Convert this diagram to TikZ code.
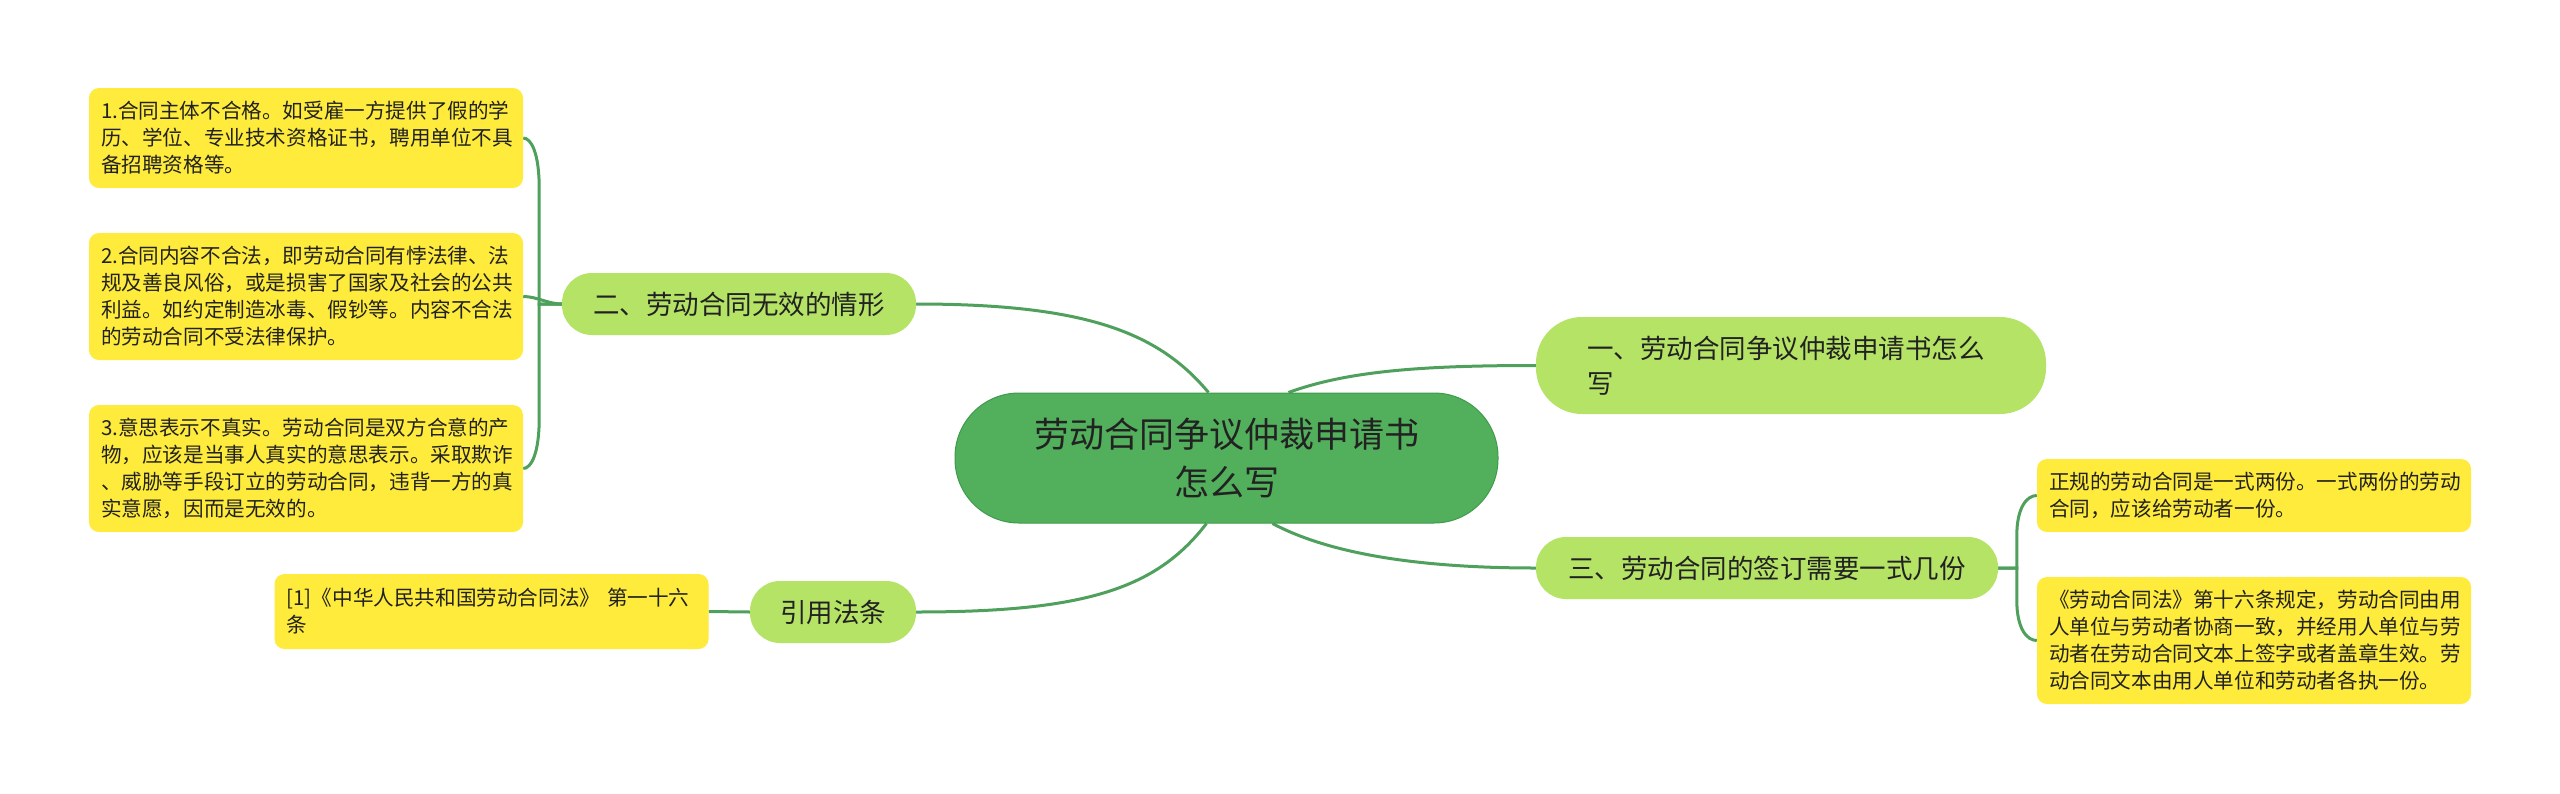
\documentclass[tikz,border=0pt]{standalone}
\usepackage{fontspec}
\setmainfont{Noto Sans CJK SC}
\usetikzlibrary{backgrounds}
\definecolor{cfill}{HTML}{52B05C}
\definecolor{cdraw}{HTML}{3F9A4B}
\definecolor{bfill}{HTML}{B5E366}
\definecolor{lfill}{HTML}{FEEB3B}
\definecolor{lncol}{HTML}{4EA05C}
\definecolor{txt}{HTML}{222222}
\begin{document}
\begin{tikzpicture}[x=1pt,y=-1pt,
  conn/.style={draw=lncol,line width=3pt},
  leafbox/.style={fill=lfill,rounded corners=10pt,text width=410pt,align=left,
    inner xsep=12pt,inner ysep=0pt,minimum height=#1,
    font=\fontsize{20.6}{27}\selectfont,text=txt},
  branchbox/.style={fill=bfill,rounded corners=30pt,minimum height=62pt,
    inner xsep=0pt,inner ysep=0pt,minimum width=#1,
    font=\fontsize{26.5}{35}\selectfont,text=txt},
  centerbox/.style={fill=cfill,draw=cdraw,line width=1pt,rounded corners=64pt,
    minimum width=543pt,minimum height=130pt,inner sep=0pt,align=center,
    font=\fontsize{35}{48}\selectfont,text=txt}]
\useasboundingbox (0,0) rectangle (2560,793);

% central
\node[centerbox] (c) at (1226.5,458) {劳动合同争议仲裁申请书\\怎么写};

% branches
\node[branchbox=354pt] (b2) at (739,304) {二、劳动合同无效的情形};
\node[branchbox=166pt] (yf) at (833,612) {引用法条};
\node[branchbox=510pt,minimum height=97pt,rounded corners=46pt,text width=408pt,align=left] (b1) at (1791,365.5) {一、劳动合同争议仲裁申请书怎么\\写};
\node[branchbox=462pt] (b3) at (1767,568) {三、劳动合同的签订需要一式几份};

% leaves
\node[leafbox=100pt] (l1) at (306,138) {1.合同主体不合格。如受雇一方提供了假的学\\历、学位、专业技术资格证书，聘用单位不具\\备招聘资格等。};
\node[leafbox=127pt] (l2) at (306,296.5) {2.合同内容不合法，即劳动合同有悖法律、法\\规及善良风俗，或是损害了国家及社会的公共\\利益。如约定制造冰毒、假钞等。内容不合法\\的劳动合同不受法律保护。};
\node[leafbox=127pt] (l3) at (306,468.5) {3.意思表示不真实。劳动合同是双方合意的产\\物，应该是当事人真实的意思表示。采取欺诈\\、威胁等手段订立的劳动合同，违背一方的真\\实意愿，因而是无效的。};
\node[leafbox=75pt] (rf) at (491.5,611.5) {[1]《中华人民共和国劳动合同法》 第一十六\\条};
\node[leafbox=73pt] (r1) at (2254,495.5) {正规的劳动合同是一式两份。一式两份的劳动\\合同，应该给劳动者一份。};
\node[leafbox=127pt] (r2) at (2254,640.5) {《劳动合同法》第十六条规定，劳动合同由用\\人单位与劳动者协商一致，并经用人单位与劳\\动者在劳动合同文本上签字或者盖章生效。劳\\动合同文本由用人单位和劳动者各执一份。};

\begin{pgfonlayer}{background}
\fill[white] (0,0) rectangle (2560,793);
% central to branches
\draw[conn] ([xshift=-18pt]c.north) .. controls +(-50,-60) and +(170,0) .. (b2.east);
\draw[conn] ([xshift=62pt]c.north) .. controls +(60,-22) and +(-110,0) .. (b1.west);
\draw[conn] ([xshift=46pt]c.south) .. controls +(60,32) and +(-110,0) .. (b3.west);
\draw[conn] ([xshift=-20pt]c.south) .. controls +(-50,65) and +(170,0) .. (yf.east);
% left leaves
\draw[conn] (b2.west) -| ([xshift=16pt,yshift=-50pt]l1.east) .. controls ([xshift=16pt,yshift=-15pt]l1.east) and ([xshift=8pt]l1.east) .. (l1.east);
\draw[conn] (b2.west) .. controls +(-14,0) and +(14,0) .. (l2.east);
\draw[conn] (b2.west) -| ([xshift=16pt,yshift=50pt]l3.east) .. controls ([xshift=16pt,yshift=15pt]l3.east) and ([xshift=8pt]l3.east) .. (l3.east);
\draw[conn] (yf.west) -- (rf.east);
% right leaves
\draw[conn] (b3.east) -| ([xshift=-20pt,yshift=-40pt]r1.west) .. controls ([xshift=-20pt,yshift=-12pt]r1.west) and ([xshift=-10pt]r1.west) .. (r1.west);
\draw[conn] (b3.east) -| ([xshift=-20pt,yshift=40pt]r2.west) .. controls ([xshift=-20pt,yshift=12pt]r2.west) and ([xshift=-10pt]r2.west) .. (r2.west);
\end{pgfonlayer}
\end{tikzpicture}
\end{document}
